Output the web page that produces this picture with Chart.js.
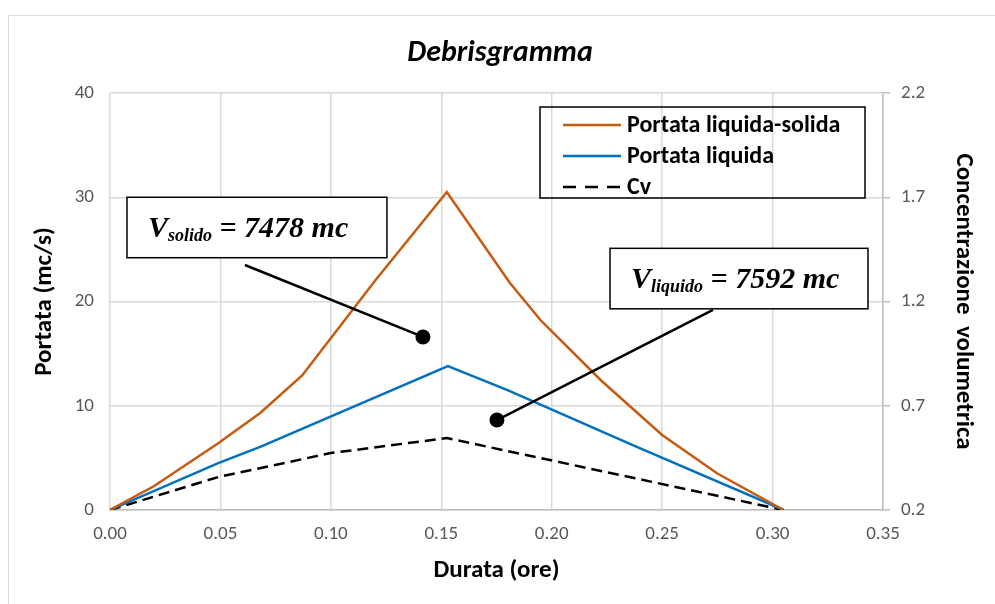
<!DOCTYPE html>
<html>
<head>
<meta charset="utf-8">
<script src="https://cdn.jsdelivr.net/npm/chart.js@4/dist/chart.umd.min.js"></script>
<style>
  html, body { margin: 0; padding: 0; background: #fff; }
  canvas { display: block; }
</style>
</head>
<body>
<canvas id="debrisgramma" width="995" height="604"></canvas>
<script>
// valori
const durataSolida = [0, 0.02, 0.049, 0.068, 0.087, 0.12, 0.1525, 0.181, 0.195, 0.2225, 0.25, 0.275, 0.305];
const portataSolida = [0, 2.3, 6.4, 9.3, 12.9, 22.0, 30.5, 21.8, 18.2, 12.4, 7.2, 3.5, 0];

const durataLiquida = [0, 0.049, 0.068, 0.153, 0.18, 0.238, 0.305];
const portataLiquida = [0, 4.5, 6.05, 13.8, 11.5, 6.1, 0];

const durataCv = [0, 0.049, 0.1, 0.1525, 0.305];
const valoriCv = [0.2, 0.358, 0.473, 0.545, 0.2];

const tickDurata = [0, 0.05, 0.10, 0.15, 0.20, 0.25, 0.30, 0.35];
const tickPortata = [0, 10, 20, 30, 40];
const tickCv = [0.2, 0.7, 1.2, 1.7, 2.2];

const nomiSerie = ['Portata liquida-solida', 'Portata liquida', 'Cv'];
const coloriSerie = ['#C55A11', '#0070C0', '#000000'];

const FONT = 'Carlito, Lato, sans-serif';
const GRIGIO = '#595959';

function punti(xs, ys) {
  return xs.map((x, i) => ({ x: x, y: ys[i] }));
}

// riquadri con il volume, in coordinate del grafico
const etichette = [
  { sub: 'solido', resto: ' = 7478 mc', box: [0.0077, 30.0, 0.1254, 24.2], da: [0.0611, 23.5], a: [0.1417, 16.6] },
  { sub: 'liquido', resto: ' = 7592 mc', box: [0.2264, 25.1, 0.3432, 19.3], da: [0.2730, 19.2], a: [0.1752, 8.63] }
];

const cornice = {
  id: 'cornice',
  beforeDraw(chart) {
    const ctx = chart.ctx;
    ctx.save();
    ctx.strokeStyle = '#d9d9d9';
    ctx.lineWidth = 1;
    ctx.strokeRect(8.5, 15.5, 1100, 700);
    ctx.restore();
  }
};

const extra = {
  id: 'extra',
  afterDraw(chart) {
    const ctx = chart.ctx;
    const x = chart.scales.x, y = chart.scales.y;
    ctx.save();

    // titolo
    ctx.fillStyle = '#000';
    ctx.font = 'italic bold 30px ' + FONT;
    ctx.textAlign = 'center';
    ctx.textBaseline = 'middle';
    ctx.fillText('Debrisgramma', 500, 53);

    // legenda
    ctx.strokeStyle = '#000';
    ctx.lineWidth = 1.5;
    ctx.strokeRect(540, 107, 325, 91);
    ctx.font = 'bold 24px ' + FONT;
    ctx.textAlign = 'left';
    nomiSerie.forEach((nome, i) => {
      const yy = 125 + i * 31;
      ctx.beginPath();
      ctx.strokeStyle = coloriSerie[i];
      ctx.lineWidth = 2.5;
      ctx.setLineDash(i === 2 ? [13, 9] : []);
      ctx.moveTo(563, yy);
      ctx.lineTo(621, yy);
      ctx.stroke();
      ctx.setLineDash([]);
      ctx.fillStyle = '#000';
      ctx.fillText(nome, 627, yy + 1);
    });

    // riquadri e frecce
    etichette.forEach(e => {
      const bx1 = x.getPixelForValue(e.box[0]), by1 = y.getPixelForValue(e.box[1]);
      const bx2 = x.getPixelForValue(e.box[2]), by2 = y.getPixelForValue(e.box[3]);
      ctx.fillStyle = '#fff';
      ctx.fillRect(bx1, by1, bx2 - bx1, by2 - by1);
      ctx.strokeStyle = '#000';
      ctx.lineWidth = 1.5;
      ctx.strokeRect(bx1, by1, bx2 - bx1, by2 - by1);

      ctx.fillStyle = '#000';
      ctx.textBaseline = 'alphabetic';
      let tx = bx1 + 21;
      const base = by1 + 40;
      ctx.font = 'italic bold 30px "Liberation Serif", serif';
      ctx.fillText('V', tx, base);
      tx += ctx.measureText('V').width;
      ctx.font = 'italic bold 18px "Liberation Serif", serif';
      ctx.fillText(e.sub, tx, base + 4);
      tx += ctx.measureText(e.sub).width;
      ctx.font = 'italic bold 30px "Liberation Serif", serif';
      ctx.fillText(e.resto, tx, base);

      const lx1 = x.getPixelForValue(e.da[0]), ly1 = y.getPixelForValue(e.da[1]);
      const lx2 = x.getPixelForValue(e.a[0]), ly2 = y.getPixelForValue(e.a[1]);
      ctx.beginPath();
      ctx.lineWidth = 2.5;
      ctx.moveTo(lx1, ly1);
      ctx.lineTo(lx2, ly2);
      ctx.stroke();
      ctx.beginPath();
      ctx.arc(lx2, ly2, 7.5, 0, Math.PI * 2);
      ctx.fill();
    });
    ctx.restore();
  }
};

const grafico = new Chart(document.getElementById('debrisgramma'), {
  type: 'line',
  data: {
    datasets: [{
      label: nomiSerie[0],
      data: punti(durataSolida, portataSolida),
      borderColor: coloriSerie[0],
      borderWidth: 2.5,
      yAxisID: 'y'
    }, {
      label: nomiSerie[1],
      data: punti(durataLiquida, portataLiquida),
      borderColor: coloriSerie[1],
      borderWidth: 2.5,
      yAxisID: 'y'
    }, {
      label: nomiSerie[2],
      data: punti(durataCv, valoriCv),
      borderColor: coloriSerie[2],
      borderWidth: 2.5,
      borderDash: [11, 6],
      yAxisID: 'y2'
    }]
  },
  options: {
    responsive: false,
    animation: false,
    devicePixelRatio: 1,
    layout: { padding: { top: 93, left: 0, right: 0, bottom: 0 } },
    elements: { point: { radius: 0 }, line: { tension: 0 } },
    plugins: { legend: { display: false }, title: { display: false }, tooltip: { enabled: false } },
    scales: {
      x: {
        type: 'linear',
        min: 0,
        max: 0.35,
        afterBuildTicks: s => { s.ticks = tickDurata.map(v => ({ value: v })); },
        afterFit: s => { s.height = 94; },
        ticks: {
          color: GRIGIO,
          font: { family: FONT, size: 19 },
          padding: 13,
          maxRotation: 0,
          callback: v => v.toFixed(2)
        },
        grid: { color: '#d9d9d9', lineWidth: 1.5, drawTicks: false },
        border: { color: '#bfbfbf', width: 1.5 },
        title: {
          display: true,
          text: 'Durata (ore)',
          color: '#000',
          font: { family: FONT, size: 25, weight: 'bold' },
          padding: { top: 0, bottom: 18 }
        }
      },
      y: {
        position: 'left',
        min: 0,
        max: 40,
        afterBuildTicks: s => { s.ticks = tickPortata.map(v => ({ value: v })); },
        afterFit: s => { s.width = 110; },
        ticks: { color: GRIGIO, font: { family: FONT, size: 19 }, padding: 16 },
        grid: { color: '#d9d9d9', lineWidth: 1.5, drawTicks: false },
        border: { display: false },
        title: {
          display: true,
          text: 'Portata (mc/s)',
          color: '#000',
          font: { family: FONT, size: 25, weight: 'bold' },
          padding: { top: 30, bottom: 0 }
        }
      },
      y2: {
        position: 'right',
        min: 0.2,
        max: 2.2,
        afterBuildTicks: s => { s.ticks = tickCv.map(v => ({ value: v })); },
        afterFit: s => { s.width = 112; },
        ticks: { color: GRIGIO, font: { family: FONT, size: 19 }, padding: 11, callback: v => v.toFixed(1) },
        grid: { drawOnChartArea: false, color: '#bfbfbf', tickLength: 7, lineWidth: 1.5 },
        border: { color: '#bfbfbf', width: 1.5 },
        title: {
          display: true,
          text: 'Concentrazione  volumetrica',
          color: '#000',
          font: { family: FONT, size: 25, weight: 'bold' },
          padding: { top: 17, bottom: 0 }
        }
      }
    }
  },
  plugins: [cornice, extra]
});
</script>
</body>
</html>
